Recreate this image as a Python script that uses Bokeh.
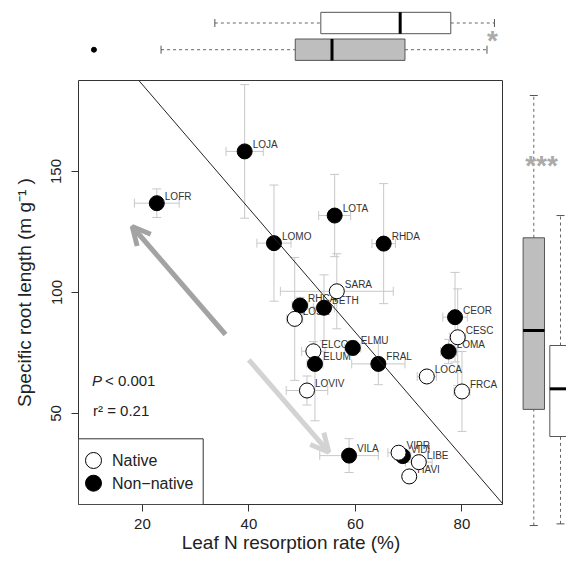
from bokeh.plotting import figure
from bokeh.models import Range1d, Slope, Arrow, OpenHead, Spacer, Label, FixedTicker, ColumnDataSource
from bokeh.layouts import column, row
from bokeh.embed import file_html
from bokeh.resources import INLINE
from bokeh.core.properties import value

# ---------------- data ----------------
species = ["LOFR", "LOJA", "LOMO", "LOTA", "RHDA", "RHCA", "BETH", "ELMU", "FRAL",
           "CEOR", "LOMA", "VILA", "VIDI",
           "SARA", "LOSA", "ELCO", "LOVIV", "LOCA", "CESC", "FRCA", "VIPR", "LIBE", "HAVI",
           "ELUM"]
origin = ["Non-native"] * 13 + ["Native"] * 10 + ["Non-native"]
resorp = [22.7, 39.2, 44.7, 56.1, 65.3, 49.6, 54.1, 59.5, 64.3, 78.7, 77.5, 58.8, 68.9,
          56.5, 48.6, 52.1, 50.9, 73.4, 79.2, 80.0, 68.1, 71.9, 70.1, 52.4]
resorp_se = [4.2, 3.5, 3.2, 3.0, 2.2, 1.5, 2.0, 1.5, 5.0, 2.3, 1.5, 5.5, 1.5,
             10.6, 1.5, 2.2, 3.9, 1.8, 1.5, 1.5, 2.0, 2.5, 1.0, 1.5]
srl = [136.9, 158.3, 120.4, 131.8, 120.2, 94.6, 93.7, 77.1, 70.5, 89.8, 75.6, 32.6, 32.4,
       100.5, 89.1, 75.7, 59.5, 65.3, 81.5, 59.1, 33.8, 29.9, 24.0, 70.5]
srl_se = [5.9, 27.6, 24.0, 17.0, 24.8, 3.4, 13.6, 3.0, 8.6, 18.5, 5.0, 7.0, 2.0,
          15.5, 25.4, 4.0, 6.0, 2.0, 20.0, 16.5, 2.0, 2.0, 1.5, 23.5]

# regression
reg_slope = -2.56
reg_intercept = 237.1

# boxplot statistics: [non-native, native]
groups = ["Non-native", "Native"]
resorp_wlo = [23.5, 33.6]
resorp_q1 = [48.7, 53.5]
resorp_med = [55.6, 68.4]
resorp_q3 = [69.3, 77.9]
resorp_whi = [84.7, 86.1]
resorp_outliers = [10.9]
srl_wlo = [3.7, 4.4]
srl_q1 = [51.7, 40.5]
srl_med = [84.3, 60.2]
srl_q3 = [122.6, 78.1]
srl_whi = [181.4, 131.8]

# ---------------- styles / geometry ----------------
FONT = "Liberation Sans"
XMIN, XMAX = 8.0, 87.8
YMIN, YMAX = 12.4, 187.6
FW, FH = 425, 424          # frame size
XS = FW / (XMAX - XMIN)
YS = FH / (YMAX - YMIN)
FX0, FY0 = 78, 80          # frame origin in screenshot px


def px2x(px):
    return XMIN + (px - FX0) / XS


def py2y(py):
    return YMAX - (py - FY0) / YS


fill = {"Native": "white", "Non-native": "black"}
box_fill = {"Native": "white", "Non-native": "#bebebe"}
pos = {"Non-native": 1, "Native": 2}

# ---------------- main figure ----------------
p = figure(width=503, height=477, x_range=Range1d(XMIN, XMAX), y_range=Range1d(YMIN, YMAX),
           toolbar_location=None, output_backend="svg",
           min_border_left=78, min_border_right=0, min_border_top=0, min_border_bottom=53,
           background_fill_color="white", border_fill_color="white")
p.outline_line_color = "#333333"
p.outline_line_width = 1
p.xgrid.visible = False
p.ygrid.visible = False
p.xaxis.ticker = FixedTicker(ticks=[20, 40, 60, 80])
p.yaxis.ticker = FixedTicker(ticks=[50, 100, 150])
p.axis.axis_line_color = None
p.axis.major_tick_out = 7
p.axis.major_tick_in = 0
p.axis.minor_tick_line_color = None
p.axis.major_tick_line_color = "#333333"
p.axis.major_label_text_font = FONT
p.axis.major_label_text_font_size = "15px"
p.axis.major_label_text_color = "#222222"
p.axis.axis_label_text_font = FONT
p.axis.axis_label_text_font_size = "19px"
p.axis.axis_label_text_font_style = "normal"
p.axis.axis_label_text_color = "#222222"
p.yaxis.major_label_orientation = "vertical"
p.xaxis.major_label_standoff = 7
p.yaxis.major_label_standoff = 10
p.xaxis.axis_label_standoff = 0
p.yaxis.axis_label_standoff = 14
p.xaxis.axis_label = "Leaf N resorption rate (%)"
p.yaxis.axis_label = "Specific root length (m g\u207b\u00b9 )"

capx = 4.5 / XS
capy = 4.5 / YS
err_color = "#c8c8c8"
xl = [a - b for a, b in zip(resorp, resorp_se)]
xh = [a + b for a, b in zip(resorp, resorp_se)]
yl = [a - b for a, b in zip(srl, srl_se)]
yh = [a + b for a, b in zip(srl, srl_se)]
src = ColumnDataSource(dict(
    x=resorp, y=srl, xl=xl, xh=xh, yl=yl, yh=yh,
    ycl=[v - capy for v in srl], ych=[v + capy for v in srl],
    xcl=[v - capx for v in resorp], xch=[v + capx for v in resorp],
    name=species, fill=[fill[o] for o in origin]))
# horizontal error bars
p.segment(x0="xl", x1="xh", y0="y", y1="y", source=src, line_color=err_color, line_width=1)
p.segment(x0="xl", x1="xl", y0="ycl", y1="ych", source=src, line_color=err_color, line_width=1)
p.segment(x0="xh", x1="xh", y0="ycl", y1="ych", source=src, line_color=err_color, line_width=1)
# vertical error bars
p.segment(x0="x", x1="x", y0="yl", y1="yh", source=src, line_color=err_color, line_width=1)
p.segment(x0="xcl", x1="xch", y0="yl", y1="yl", source=src, line_color=err_color, line_width=1)
p.segment(x0="xcl", x1="xch", y0="yh", y1="yh", source=src, line_color=err_color, line_width=1)

# labels (under points)
p.text(x="x", y="y", text="name", source=src, x_offset=8, y_offset=-7,
       text_font=value(FONT), text_font_size="10px", text_color="#333333",
       text_align="left", text_baseline="middle")
# points
p.scatter(x="x", y="y", source=src, size=15, fill_color="fill", line_color="black", line_width=1)

# regression line
p.add_layout(Slope(gradient=reg_slope, y_intercept=reg_intercept, line_color="#222222", line_width=1))

# arrows
p.add_layout(Arrow(x_start=px2x(225), y_start=py2y(334), x_end=px2x(131.7), y_end=py2y(226),
                   line_width=5, line_color="#a3a3a3",
                   end=OpenHead(size=18, line_width=5, line_color="#a3a3a3")))
p.add_layout(Arrow(x_start=px2x(248.3), y_start=py2y(359.3), x_end=px2x(328.3), y_end=py2y(451.7),
                   line_width=5, line_color="#d3d3d3",
                   end=OpenHead(size=18, line_width=5, line_color="#d3d3d3")))

# statistics text
p.text(x=[px2x(91.5)], y=[py2y(380)], text=["P"], text_font=value(FONT), text_font_size="15px",
       text_font_style="italic", text_color="#222222", text_baseline="middle")
p.text(x=[px2x(104.5)], y=[py2y(380)], text=["< 0.001"], text_font=value(FONT), text_font_size="15px",
       text_color="#222222", text_baseline="middle")
p.text(x=[px2x(92.5)], y=[py2y(410)], text=["r\u00b2 = 0.21"], text_font=value(FONT), text_font_size="15px",
       text_color="#222222", text_baseline="middle")

# legend
p.quad(left=[XMIN], right=[px2x(202.7)], bottom=[YMIN], top=[py2y(438.3)],
       fill_color="white", line_color="#333333", line_width=1)
leg_y = [py2y(460), py2y(482.7)]
p.scatter(x=[px2x(93)] * 2, y=leg_y, size=16, fill_color=[fill["Native"], fill["Non-native"]],
          line_color="black", line_width=1)
p.text(x=[px2x(111.5)] * 2, y=leg_y, text=["Native", "Non\u2212native"], text_font=value(FONT),
       text_font_size="16px", text_color="#222222", text_baseline="middle")

# ---------------- top boxplot ----------------
BW = 0.4
BSP = 26.7  # px per box position
top = figure(width=503, height=80, x_range=p.x_range, y_range=Range1d(2.843 - 80 / BSP, 2.843),
             x_axis_type=None, y_axis_type=None, toolbar_location=None, output_backend="svg",
             min_border_left=78, min_border_right=0, min_border_top=0, min_border_bottom=0,
             outline_line_color=None, background_fill_color="white", border_fill_color="white")
yp = [pos[g] for g in groups]
top.segment(x0=resorp_wlo, x1=resorp_q1, y0=yp, y1=yp, line_color="#666666", line_dash="3 3")
top.segment(x0=resorp_q3, x1=resorp_whi, y0=yp, y1=yp, line_color="#666666", line_dash="3 3")
top.segment(x0=resorp_wlo, x1=resorp_wlo, y0=[v - 0.15 for v in yp], y1=[v + 0.15 for v in yp],
            line_color="#555555")
top.segment(x0=resorp_whi, x1=resorp_whi, y0=[v - 0.15 for v in yp], y1=[v + 0.15 for v in yp],
            line_color="#555555")
top.quad(left=resorp_q1, right=resorp_q3, bottom=[v - BW for v in yp], top=[v + BW for v in yp],
         fill_color=[box_fill[g] for g in groups], line_color="#555555")
top.segment(x0=resorp_med, x1=resorp_med, y0=[v - BW for v in yp], y1=[v + BW for v in yp],
            line_color="black", line_width=3)
top.scatter(x=resorp_outliers, y=[pos["Non-native"]] * len(resorp_outliers), size=5,
            fill_color="black", line_color="black")
top.add_layout(Label(x=px2x(492), y=2.843 - 39.5 / BSP, text="*", text_font=FONT, text_font_size="28px",
                     text_font_style="bold", text_color="#aaaaaa", text_align="center",
                     text_baseline="middle"))

# ---------------- right boxplot ----------------
RW = 63
RYMIN = YMAX - 477 / YS
right = figure(width=RW, height=477, x_range=Range1d(-0.135, -0.135 + RW / BSP), y_range=Range1d(RYMIN, YMAX),
               x_axis_type=None, y_axis_type=None, toolbar_location=None, output_backend="svg",
               min_border_left=0, min_border_right=0, min_border_top=0, min_border_bottom=0,
               outline_line_color=None, background_fill_color="white", border_fill_color="white")
right.segment(x0=yp, x1=yp, y0=srl_wlo, y1=srl_q1, line_color="#666666", line_dash="3 3")
right.segment(x0=yp, x1=yp, y0=srl_q3, y1=srl_whi, line_color="#666666", line_dash="3 3")
right.segment(x0=[v - 0.15 for v in yp], x1=[v + 0.15 for v in yp], y0=srl_wlo, y1=srl_wlo,
              line_color="#555555")
right.segment(x0=[v - 0.15 for v in yp], x1=[v + 0.15 for v in yp], y0=srl_whi, y1=srl_whi,
              line_color="#555555")
right.quad(left=[v - BW for v in yp], right=[v + BW for v in yp], bottom=srl_q1, top=srl_q3,
           fill_color=[box_fill[g] for g in groups], line_color="#555555")
right.segment(x0=[v - BW for v in yp], x1=[v + BW for v in yp], y0=srl_med, y1=srl_med,
              line_color="black", line_width=3)
right.add_layout(Label(x=1.288, y=py2y(164.6), text="***", text_font=FONT, text_font_size="28px",
                       text_font_style="bold", text_color="#aaaaaa", text_align="center",
                       text_baseline="middle"))

layout = column(row(top, Spacer(width=RW, height=80)), row(p, column(right)))
open("out.html", "w").write(file_html(layout, INLINE))
